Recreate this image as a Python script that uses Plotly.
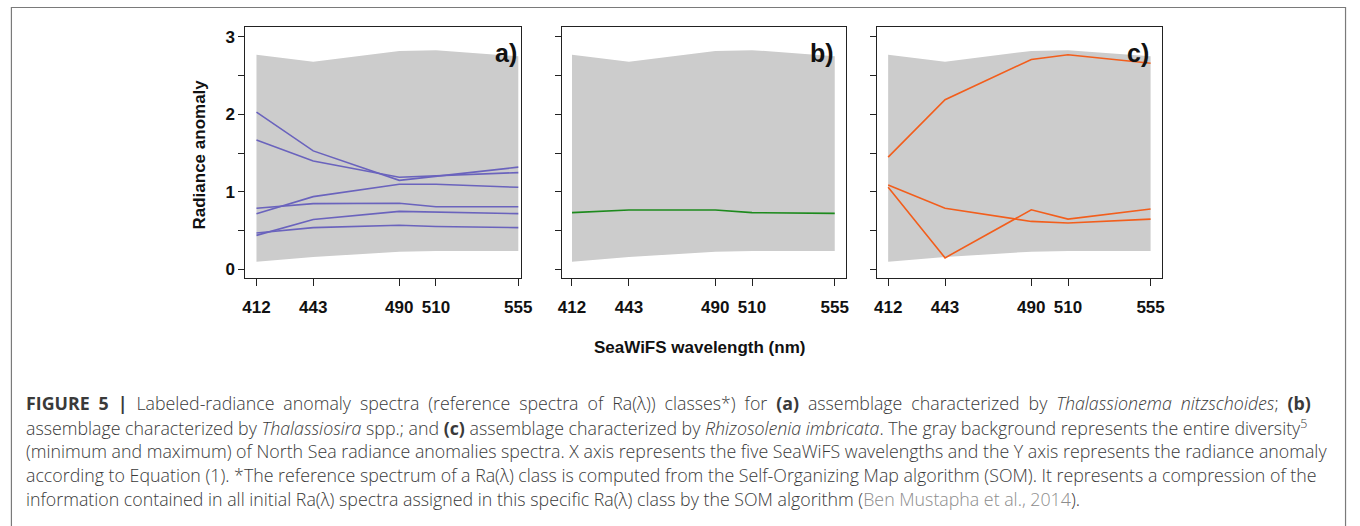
import plotly.graph_objects as go

W, H = 1360, 526

# ---------------- data ----------------
wavelengths = [412, 443, 490, 510, 555]
wl_labels = ["412", "443", "490", "510", "555"]
band_min = [0.10, 0.16, 0.23, 0.24, 0.24]
band_max = [2.77, 2.68, 2.82, 2.83, 2.75]

class_a1 = [2.03, 1.53, 1.15, 1.20, 1.32]
class_a2 = [1.67, 1.40, 1.19, 1.21, 1.25]
class_a3 = [0.72, 0.94, 1.10, 1.10, 1.06]
class_a4 = [0.79, 0.85, 0.855, 0.81, 0.81]
class_a5 = [0.44, 0.645, 0.75, 0.74, 0.72]
class_a6 = [0.47, 0.54, 0.57, 0.555, 0.54]

class_b1 = [0.733, 0.767, 0.767, 0.733, 0.724]

class_c1 = [1.45, 2.19, 2.71, 2.77, 2.66]
class_c2 = [1.09, 0.79, 0.62, 0.60, 0.65]
class_c3 = [1.06, 0.15, 0.77, 0.65, 0.78]

y_ticks = [0, 0.5, 1, 1.5, 2, 2.5, 3]
y_ticklabels = ["0", "", "1", "", "2", "", "3"]

panel_labels = ["a)", "b)", "c)"]
x_title = "SeaWiFS wavelength (nm)"
y_title = "Radiance anomaly"

caption_lines = [
    "<span style='word-spacing:4.3px'><b>FIGURE 5 |</b> Labeled-radiance anomaly spectra (reference spectra of Ra(λ)) classes*) for <b>(a)</b> assemblage characterized by <i>Thalassionema nitzschoides</i>; <b>(b)</b></span>",
    "assemblage characterized by <i>Thalassiosira</i> spp.; and <b>(c)</b> assemblage characterized by <i>Rhizosolenia imbricata</i>. The gray background represents the entire diversity<sup>5</sup>",
    "(minimum and maximum) of North Sea radiance anomalies spectra. X axis represents the five SeaWiFS wavelengths and the Y axis represents the radiance anomaly",
    "according to Equation (1). *The reference spectrum of a Ra(λ) class is computed from the Self-Organizing Map algorithm (SOM). It represents a compression of the",
    "information contained in all initial Ra(λ) spectra assigned in this specific Ra(λ) class by the SOM algorithm (<span style='color:#8c8c8c'>Ben Mustapha et al., 2014</span>).",
]

# ---------------- layout helpers ----------------
def px(x):
    return x / W

def py(y):
    return 1 - y / H

BOLD_FONT = "Liberation Sans, Arial, sans-serif"

panels = [
    dict(dom=(244, 523), xr=(405.9, 556.6), lines=[class_a1, class_a2, class_a3, class_a4, class_a5, class_a6],
         color="#6a63bd", show_y=True, lab_x=521),
    dict(dom=(564.3, 851.7), xr=(406.6, 561.3), lines=[class_b1], color="#1d8a1d", show_y=False, lab_x=841),
    dict(dom=(882.7, 1170.7), xr=(405.9, 561.1), lines=[class_c1, class_c2, class_c3], color="#f25e1c",
         show_y=False, lab_x=1160),
]

y_top, y_bot = 27, 279
y_range = [-0.116, 3.129]

fig = go.Figure()
annotations = []

for i, p in enumerate(panels):
    n = "" if i == 0 else str(i + 1)
    xa, ya = "x" + n, "y" + n
    # gray band
    fig.add_trace(go.Scatter(x=wavelengths, y=band_min, mode="lines", line=dict(width=0, color="#cccccc"),
                             xaxis=xa, yaxis=ya, showlegend=False, hoverinfo="skip"))
    fig.add_trace(go.Scatter(x=wavelengths, y=band_max, mode="lines", line=dict(width=0, color="#cccccc"),
                             fill="tonexty", fillcolor="#cccccc",
                             xaxis=xa, yaxis=ya, showlegend=False, hoverinfo="skip"))
    for vals in p["lines"]:
        fig.add_trace(go.Scatter(x=wavelengths, y=vals, mode="lines", line=dict(width=1.6, color=p["color"]),
                                 xaxis=xa, yaxis=ya, showlegend=False))
    axis_common = dict(showline=True, linecolor="#222222", linewidth=1, mirror=True, ticks="outside",
                       tickcolor="#222222", showgrid=False, zeroline=False,
                       tickfont=dict(family=BOLD_FONT, size=17, color="#111111", weight="bold"))
    fig.layout["xaxis" + n] = dict(domain=[px(p["dom"][0]), px(p["dom"][1])], range=list(p["xr"]),
                                   anchor=ya, tickvals=wavelengths, ticktext=wl_labels, ticklen=7,
                                   ticklabelstandoff=6, **axis_common)
    fig.layout["yaxis" + n] = dict(domain=[py(y_bot), py(y_top)], range=y_range, anchor=xa,
                                   tickvals=y_ticks,
                                   ticktext=y_ticklabels if p["show_y"] else [""] * len(y_ticks),
                                   ticklen=6, **axis_common)
    annotations.append(dict(text="<b>" + panel_labels[i] + "</b>", x=px(p["lab_x"]), y=py(53),
                            xref="paper", yref="paper", xanchor="right", yanchor="middle", showarrow=False,
                            font=dict(family=BOLD_FONT, size=25, color="#111111")))

annotations.append(dict(text="<b>" + y_title + "</b>", x=px(198), y=py(155), xref="paper", yref="paper",
                        textangle=-90, xanchor="center", yanchor="middle", showarrow=False,
                        font=dict(family=BOLD_FONT, size=17, color="#111111")))
annotations.append(dict(text="<b>" + x_title + "</b>", x=px(703), y=py(348), xref="paper", yref="paper",
                        xanchor="center", yanchor="middle", showarrow=False,
                        font=dict(family=BOLD_FONT, size=17, color="#111111")))

for k, line in enumerate(caption_lines):
    annotations.append(dict(text=line, x=px(20), y=py(404 + 24 * k), xref="paper", yref="paper",
                            xanchor="left", yanchor="middle", showarrow=False, align="left",
                            font=dict(family="Open Sans, Liberation Sans, sans-serif", size=17.8,
                                      color="#3a3a3a", weight=300)))

shapes = [dict(type="path", xref="paper", yref="paper",
               path=f"M {px(7.5)} {py(530)} L {px(7.5)} {py(7.5)} L {px(1356.5)} {py(7.5)} L {px(1356.5)} {py(530)}",
               line=dict(color="#7a7a7a", width=1.2))]

fig.update_layout(width=W, height=H, margin=dict(l=0, r=0, t=0, b=0), paper_bgcolor="white",
                  plot_bgcolor="white", annotations=annotations, shapes=shapes, showlegend=False)

fig.write_html("out.html")
